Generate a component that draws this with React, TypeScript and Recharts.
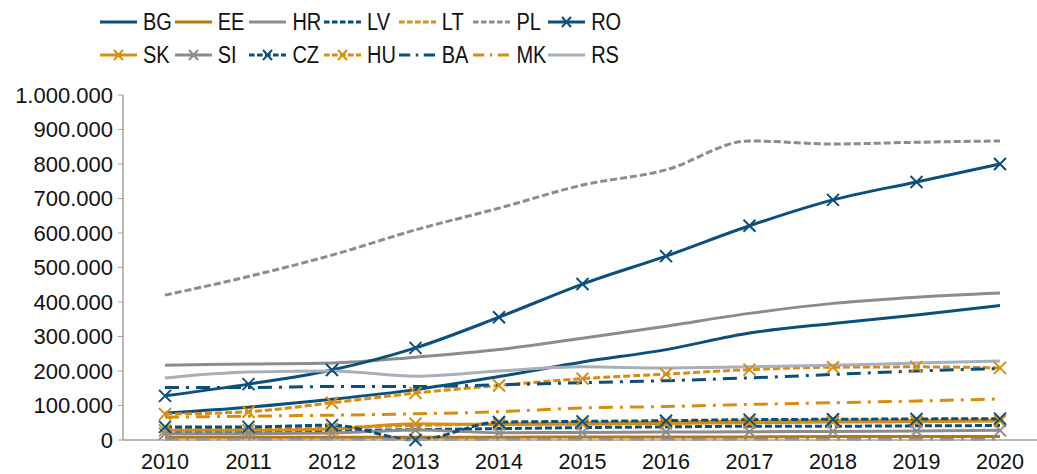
import React from "react";
import { LineChart, Line, XAxis, YAxis } from "recharts";

const YEARS = ["2010", "2011", "2012", "2013", "2014", "2015", "2016", "2017", "2018", "2019", "2020"];

const BG = [78000, 95000, 118000, 146000, 184000, 226000, 262000, 310000, 338000, 362000, 390000];
const EE = [8000, 8000, 8000, 8000, 8000, 9000, 9000, 9000, 10000, 10000, 10000];
const HR = [217000, 220000, 223000, 240000, 262000, 295000, 330000, 367000, 396000, 414000, 426000];
const LV = [22000, 24000, 27000, 30000, 33000, 36000, 38000, 40000, 40000, 41000, 42000];
const LT = [30000, 31000, 36000, 42000, 47000, 50000, 52000, 55000, 57000, 57000, 58000];
const PL = [420000, 474000, 536000, 609000, 672000, 739000, 783000, 867000, 858000, 863000, 867000];
const RO = [128000, 162000, 203000, 267000, 356000, 452000, 533000, 621000, 696000, 748000, 800000];
const SK = [28000, 28000, 32000, 47000, 45000, 46000, 48000, 50000, 52000, 53000, 55000];
const SI = [18000, 18000, 20000, 29000, 21000, 22000, 23000, 24000, 25000, 26000, 28000];
const CZ = [38000, 38000, 43000, 0, 52000, 54000, 56000, 59000, 60000, 61000, 62000];
const HU = [75000, 82000, 108000, 136000, 158000, 178000, 191000, 204000, 211000, 212000, 209000];
const BA = [152000, 152000, 155000, 155000, 160000, 166000, 172000, 180000, 190000, 200000, 207000];
const MK = [66000, 69000, 72000, 76000, 82000, 93000, 97000, 103000, 108000, 113000, 119000];
const RS = [180000, 197000, 200000, 185000, 200000, 212000, 209000, 212000, 217000, 223000, 229000];
const OTHER = [2000, 2000, 2000, 2000, 2000, 2000, 2000, 2000, 2000, 2000, 2000];

const BLUE = "#0B4F7C";
const ORANGE = "#DA8C0C";
const BROWN = "#BE760A";
const GRAY = "#8C8C8E";
const LIGHT = "#A8AFBA";

type S = { key: string; values: number[]; color: string; dash?: string; mark?: boolean; hidden?: boolean };

const SERIES: S[] = [
  { key: "BG", values: BG, color: BLUE },
  { key: "EE", values: EE, color: BROWN },
  { key: "HR", values: HR, color: GRAY },
  { key: "LV", values: LV, color: BLUE, dash: "7 3" },
  { key: "LT", values: LT, color: ORANGE, dash: "7 3" },
  { key: "PL", values: PL, color: GRAY, dash: "7 3" },
  { key: "RO", values: RO, color: BLUE, mark: true },
  { key: "SK", values: SK, color: ORANGE, mark: true },
  { key: "SI", values: SI, color: GRAY, mark: true },
  { key: "CZ", values: CZ, color: BLUE, dash: "7 3", mark: true },
  { key: "HU", values: HU, color: ORANGE, dash: "7 3", mark: true },
  { key: "BA", values: BA, color: BLUE, dash: "14 7 3 7" },
  { key: "MK", values: MK, color: ORANGE, dash: "14 7 3 7" },
  { key: "RS", values: RS, color: LIGHT },
  { key: "other", values: OTHER, color: GRAY, dash: "14 7 3 7", hidden: true },
];

const data = YEARS.map((year, i) => {
  const row: Record<string, any> = { year };
  SERIES.forEach((s) => (row[s.key] = s.values[i]));
  return row;
});

const fmt = (v: number) => v.toString().replace(/\B(?=(\d{3})+(?!\d))/g, ".");

const cross = (color: string) => (props: any) => {
  const { cx, cy, index } = props;
  if (cx == null || cy == null) return <g key={index} />;
  const s = 6;
  return (
    <path
      key={index}
      d={`M${cx - s},${cy - s}L${cx + s},${cy + s}M${cx + s},${cy - s}L${cx - s},${cy + s}`}
      stroke={color}
      strokeWidth={2}
      strokeDasharray="none"
      fill="none"
    />
  );
};

const FONT = "'Liberation Sans', Arial, sans-serif";

const LegendBox = () => {
  const items = SERIES.filter((s) => !s.hidden);
  return (
    <div
      style={{
        position: "absolute",
        left: 100,
        top: 10,
        display: "grid",
        gridTemplateColumns: "repeat(7, 74.7px)",
        rowGap: 9,
        fontFamily: FONT,
        fontSize: 20,
        color: "#111",
      }}
    >
      {items.map((s) => (
        <div key={s.key} style={{ display: "flex", alignItems: "center", height: 24 }}>
          <svg width={38} height={16} style={{ marginRight: 5 }}>
            <line x1={0} y1={8} x2={37} y2={8} stroke={s.color} strokeWidth={3} strokeDasharray={s.dash ? s.dash.split(" ").map((d) => Number(d) * 0.8).join(" ") : undefined} />
            {s.mark && (
              <path d="M14,3L23,13M23,3L14,13" stroke={s.color} strokeWidth={2} fill="none" />
            )}
          </svg>
          <span style={{ display: "inline-block", transform: "scaleY(1.15)" }}>{s.key}</span>
        </div>
      ))}
    </div>
  );
};

export default function App() {
  return (
    <div style={{ position: "absolute", left: 0, top: 0, width: 1037, height: 474, background: "#fff" }}>
      <LegendBox />
      <LineChart
        width={1037}
        height={474}
        data={data}
        margin={{ top: 95, right: 0, bottom: 4, left: 0 }}
      >
        <XAxis
          dataKey="year"
          padding={{ left: 42, right: 37 }}
          axisLine={{ stroke: "#A0A0A0", strokeWidth: 1.5 }}
          tickLine={false}
          height={30}
          tickMargin={8}
          interval={0}
          tick={{ fill: "#111", fontSize: 21.5, fontFamily: FONT }}
        />
        <YAxis
          width={123}
          domain={[0, 1000000]}
          ticks={[0, 100000, 200000, 300000, 400000, 500000, 600000, 700000, 800000, 900000, 1000000]}
          tickFormatter={fmt}
          axisLine={{ stroke: "#A0A0A0", strokeWidth: 1.5 }}
          tickLine={{ stroke: "#A0A0A0" }}
          tickSize={5}
          tickMargin={5}
          tick={{ fill: "#111", fontSize: 22, fontFamily: FONT }}
        />
        {SERIES.map((s) => (
          <Line
            key={s.key}
            dataKey={s.key}
            type="monotone"
            stroke={s.color}
            strokeWidth={3}
            strokeDasharray={s.dash}
            dot={s.mark ? cross(s.color) : false}
            activeDot={false}
            legendType={s.hidden ? "none" : "line"}
            isAnimationActive={false}
          />
        ))}
      </LineChart>
    </div>
  );
}
